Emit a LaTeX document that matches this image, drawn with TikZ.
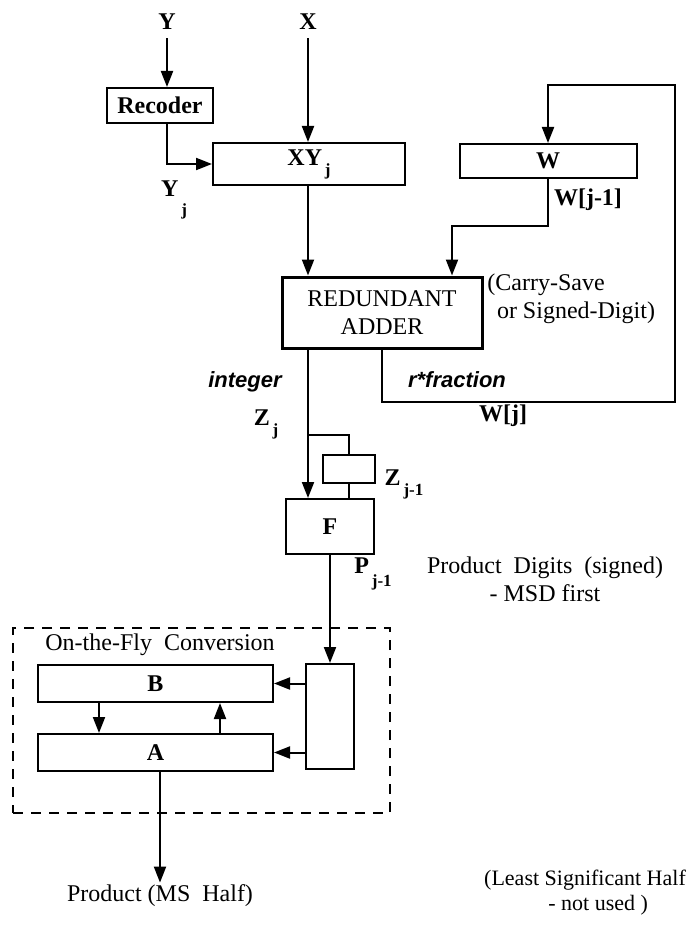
\documentclass[tikz,border=0pt]{standalone}
\usepackage{fontspec}
\setmainfont{Liberation Serif}
\newfontfamily\lblsans{Liberation Sans}
\usetikzlibrary{arrows.meta,positioning,calc}
\newcommand{\lowsub}[2][0.9ex]{\raisebox{-#1}{\fontsize{8.5}{9}\selectfont\,#2}}

\begin{document}
\begin{tikzpicture}[
  x=0.5pt, y=-0.5pt, font=\fontsize{12}{14}\selectfont,
  >={Triangle[length=8pt, width=6pt]},
  blk/.style={draw, line width=1pt, inner sep=0pt, font=\fontsize{12}{14}\selectfont\bfseries},
  arr/.style={->, line width=1pt},
  ln/.style={line width=1pt},
  lb/.style={inner sep=1pt, align=center},
  bl/.style={inner sep=1pt, font=\fontsize{12}{14}\selectfont\bfseries},
  it/.style={inner sep=1pt, font=\fontsize{11}{13}\selectfont\lblsans\bfseries\itshape},
  grp/.style={draw, line width=1pt, dash pattern=on 5pt off 4pt},
]
\useasboundingbox (0,0) rectangle (688,931);
% inputs
\node[bl] (ylab) at (167,22) {Y};
\node[bl] (xlab) at (308,22) {X};
% blocks
\node[blk, minimum width=53pt, minimum height=17.5pt] (rec) at (160,105.5) {Recoder};
\node[blk, minimum width=96pt, minimum height=21pt] (xy) at (309,164) {XY\lowsub{j}};
\node[blk, minimum width=88.5pt, minimum height=17pt] (w) at (548,161) {W};
\node[blk, line width=1.5pt, align=center, font=\fontsize{12}{14}\selectfont,
  minimum width=100pt, minimum height=35.5pt] (add) at (382,312.5) {REDUNDANT\\ADDER};
\node[blk, minimum width=26pt, minimum height=14pt] (zreg) at (349,469) {};
\node[blk, minimum width=44pt, minimum height=27.5pt] (f) at (330,526.5) {F};
% on-the-fly conversion
\node[grp, minimum width=188.5pt, minimum height=92.5pt] (conv) at (201.5,720.5) {};
\node[lb, anchor=west] (convt) at (43,645) {On-the-Fly\ \ Conversion};
\node[blk, minimum width=24pt, minimum height=52.5pt] (sel) at (330,716.5) {};
\node[blk, minimum width=117.5pt, minimum height=18.5pt] (b) at (155.5,683.5) {B};
\node[blk, minimum width=117.5pt, minimum height=18.5pt] (a) at (155.5,752.5) {A};
% feedback corners
\coordinate (wa) at (452,226);
\coordinate (fbb) at (675,402);
\coordinate (fbt) at (675,85);
\coordinate (zt) at (xlab |- 0,435);
% connectors
\draw[arr] (ylab.south) ++(0,6) -- (ylab.south |- rec.north);
\draw[arr] (xlab.south) ++(0,6) -- (xlab.south |- xy.north);
\draw[arr] (ylab.south |- rec.south) |- (xy.west);
\draw[arr] (xlab |- xy.south) -- (xlab |- add.north);
\draw[arr] (w.south) |- (wa) -- (wa |- add.north);
\draw[arr] (add.south) |- (fbb) -- (fbt) -| (w.north);
\draw[arr] (xlab |- add.south) -- (xlab |- f.north);
\draw[ln] (zt) -| (zreg.north);
\draw[ln] (zreg.south) -- (zreg.south |- f.north);
\draw[arr] (f.south) -- (sel.north);
\draw[arr] (sel.west |- b.east) -- (b.east);
\draw[arr] (sel.west |- a.east) -- (a.east);
\draw[arr] (b.south -| 99,0) -- (a.north -| 99,0);
\draw[arr] (a.north -| 220,0) -- (b.south -| 220,0);
% outputs
\node[lb] (prod) at (160,896) {Product (MS\ \ Half)};
\node[lb, font=\fontsize{11}{12.5}\selectfont] (lsh) at (585,893) {(Least Significant Half\\\hspace*{1.2em}- not used )};
\draw[arr] (a.south -| prod) -- (prod.north);
% labels
\node[bl] (yj) at (174,200) {Y\lowsub[1.7ex]{j}};
\node[bl] (wj1) at (588,200) {W[j-1]};
\node[lb, align=left, anchor=west] (cs) at (485,299) {(Carry-Save\\\hspace*{0.4em}or Signed-Digit)};
\node[it] (intg) at (245,382) {integer};
\node[it] (frac) at (457,380) {r*fraction};
\node[bl] (zj) at (266,424) {Z\lowsub{j}};
\node[bl] (wj) at (503,416) {W[j]};
\node[bl] (zj1) at (404,484) {Z\lowsub{j-1}};
\node[bl] (pj1) at (373,574) {P\lowsub[1.2ex]{j-1}};
\node[lb] (pd) at (545,579) {Product\ \ Digits\ \ (signed)\\- MSD first};
\end{tikzpicture}
\end{document}
